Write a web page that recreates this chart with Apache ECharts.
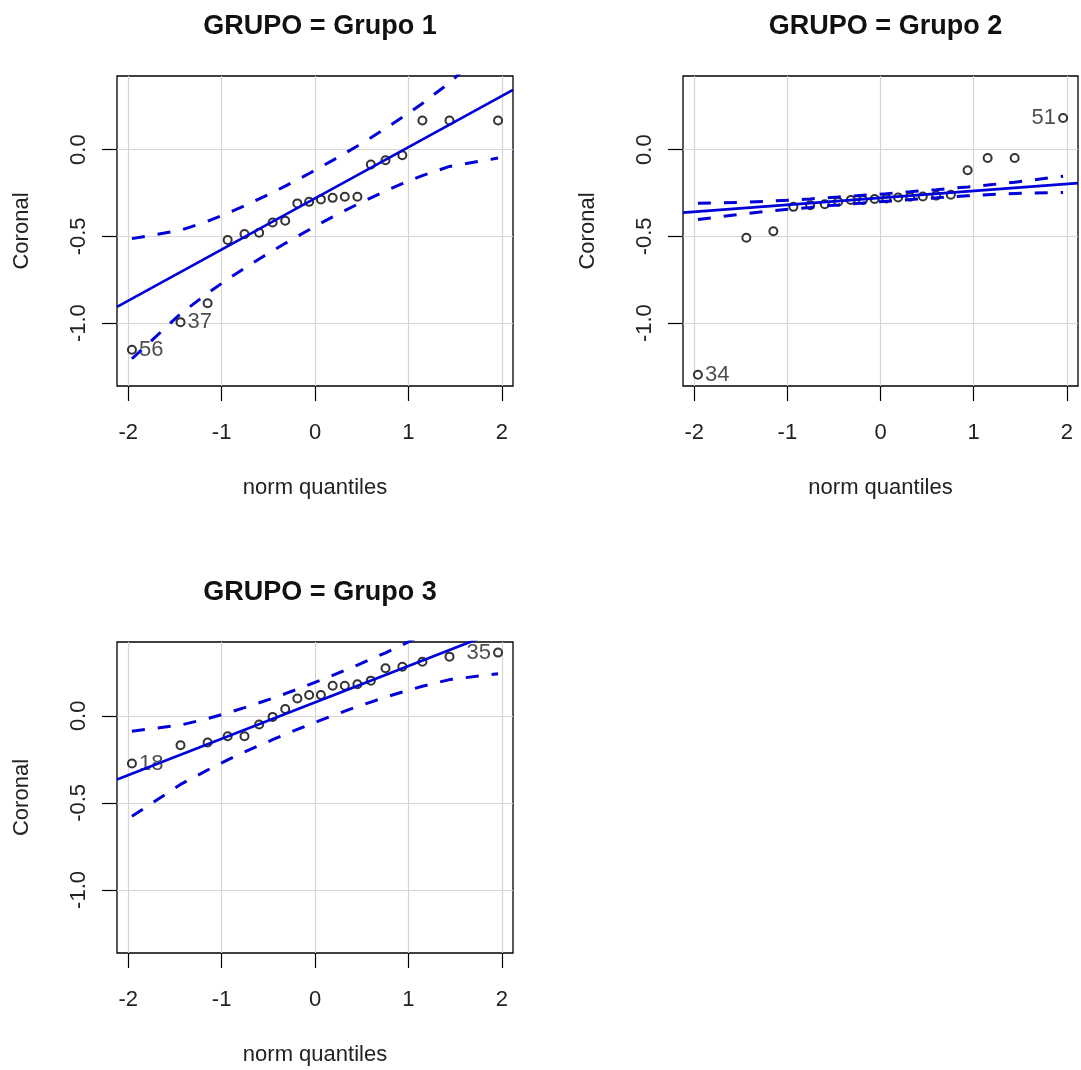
<!DOCTYPE html>
<html>
<head>
<meta charset="utf-8">
<script src="https://cdn.jsdelivr.net/npm/echarts@6/dist/echarts.min.js"></script>
<style>
  html, body { margin: 0; padding: 0; background: #fff; }
  #chart { width: 1081px; height: 1070px; }
</style>
</head>
<body>
<div id="chart"></div>
<script>
// normal quantiles on the x axis (same for every group, n = 20)
var quantiles = [-1.96, -1.44, -1.15, -0.935, -0.755, -0.598, -0.454, -0.319, -0.189, -0.063,
                 0.063, 0.189, 0.319, 0.454, 0.598, 0.755, 0.935, 1.15, 1.44, 1.96];

var groupNames = ['Grupo 1', 'Grupo 2', 'Grupo 3'];

// sorted Coronal values per group
var coronal1 = [-1.153, -0.994, -0.885, -0.521, -0.487, -0.479, -0.420, -0.410, -0.310, -0.301,
                -0.287, -0.278, -0.272, -0.272, -0.086, -0.061, -0.033, 0.168, 0.168, 0.168];
var coronal2 = [-1.297, -0.508, -0.470, -0.330, -0.320, -0.315, -0.300, -0.290, -0.290, -0.285,
                -0.282, -0.276, -0.272, -0.270, -0.265, -0.260, -0.119, -0.048, -0.048, 0.182];
var coronal3 = [-0.274, -0.169, -0.153, -0.117, -0.117, -0.050, -0.006, 0.039, 0.100, 0.120,
                0.120, 0.173, 0.173, 0.181, 0.202, 0.273, 0.282, 0.311, 0.340, 0.363];

// reference line (intercept, slope) per group
var fitIntercept = [-0.281, -0.278, 0.077];
var fitSlope = [0.295, 0.040, 0.209];

// confidence envelope per group
var upper1 = [-0.513, -0.465, -0.413, -0.366, -0.324, -0.284, -0.247, -0.210, -0.174, -0.138,
              -0.100, -0.062, -0.022, 0.021, 0.068, 0.122, 0.186, 0.266, 0.385, 0.643];
var lower1 = [-1.205, -0.946, -0.828, -0.747, -0.684, -0.630, -0.583, -0.540, -0.500, -0.462,
              -0.424, -0.388, -0.352, -0.315, -0.278, -0.238, -0.196, -0.150, -0.097, -0.049];
var upper2 = [-0.309, -0.303, -0.296, -0.290, -0.284, -0.278, -0.273, -0.268, -0.263, -0.259,
              -0.254, -0.248, -0.243, -0.237, -0.231, -0.223, -0.215, -0.204, -0.188, -0.153];
var lower2 = [-0.403, -0.368, -0.352, -0.341, -0.333, -0.325, -0.319, -0.313, -0.308, -0.303,
              -0.298, -0.293, -0.288, -0.283, -0.278, -0.272, -0.266, -0.260, -0.253, -0.247];
var upper3 = [-0.088, -0.053, -0.016, 0.017, 0.047, 0.075, 0.101, 0.127, 0.153, 0.179,
              0.205, 0.232, 0.261, 0.291, 0.325, 0.362, 0.407, 0.465, 0.549, 0.732];
var lower3 = [-0.577, -0.394, -0.311, -0.253, -0.208, -0.171, -0.137, -0.107, -0.078, -0.051,
              -0.025, 0.001, 0.027, 0.053, 0.079, 0.107, 0.137, 0.170, 0.208, 0.242];

// labelled points: index in the sorted data and the observation id
var labelIdx = [[0, 1], [0, 19], [0, 19]];
var labelText = [['56', '37'], ['34', '51'], ['18', '35']];
var labelSide = [['right', 'right'], ['right', 'left'], ['right', 'left']];

var xTicks = [-2, -1, 0, 1, 2];
var yTicks = [-1.0, -0.5, 0.0];
var xRange = [-2.12, 2.12];
var yRange = [-1.362, 0.424];

var values = [coronal1, coronal2, coronal3];
var uppers = [upper1, upper2, upper3];
var lowers = [lower1, lower2, lower3];

var FONT = 'Liberation Sans, Arial, sans-serif';
var BLUE = '#0000d8';
var grids = [
  { left: 117, top: 76, width: 396, height: 310 },
  { left: 683, top: 76, width: 395, height: 310 },
  { left: 117, top: 642, width: 396, height: 311 }
];

var chart = echarts.init(document.getElementById('chart'));

var option = {
  backgroundColor: '#fff',
  animation: false,
  title: [],
  grid: [],
  xAxis: [],
  yAxis: [],
  series: []
};

grids.forEach(function (g, gi) {
  option.grid.push({
    left: g.left, top: g.top, width: g.width, height: g.height,
    show: true, borderColor: '#000', borderWidth: 1.3, backgroundColor: 'transparent'
  });
  option.title.push({
    text: 'GRUPO = ' + groupNames[gi],
    left: g.left + g.width / 2,
    top: g.top - 68,
    textAlign: 'center',
    textStyle: { fontFamily: FONT, fontSize: 27, fontWeight: 'bold', color: '#111' }
  });
  option.xAxis.push({
    gridIndex: gi, type: 'value', min: xRange[0], max: xRange[1], splitNumber: 4,
    name: 'norm quantiles', nameLocation: 'middle', nameGap: 91,
    nameTextStyle: { fontFamily: FONT, fontSize: 22, color: '#222' },
    axisLine: { show: false, onZero: false },
    axisTick: { show: true, inside: false, length: 15, customValues: xTicks,
                lineStyle: { color: '#000', width: 1.2 } },
    axisLabel: { fontFamily: FONT, fontSize: 22, color: '#222', margin: 36, customValues: xTicks,
                 formatter: function (v) { return String(v); } },
    splitLine: { show: true, lineStyle: { color: '#d6d6d6', width: 1.2 } }
  });
  option.yAxis.push({
    gridIndex: gi, type: 'value', min: yRange[0], max: yRange[1], splitNumber: 4,
    name: 'Coronal', nameLocation: 'middle', nameGap: 84,
    nameTextStyle: { fontFamily: FONT, fontSize: 22, color: '#222' },
    axisLine: { show: false, onZero: false },
    axisTick: { show: true, inside: false, length: 15, customValues: yTicks,
                lineStyle: { color: '#000', width: 1.2 } },
    axisLabel: { fontFamily: FONT, fontSize: 22, color: '#222', margin: 27, rotate: 90,
                 customValues: yTicks,
                 formatter: function (v) { return v.toFixed(1); } },
    splitLine: { show: true, lineStyle: { color: '#d6d6d6', width: 1.2 } }
  });

  var pts = quantiles.map(function (q, i) {
    var item = { value: [q, values[gi][i]] };
    var k = labelIdx[gi].indexOf(i);
    if (k >= 0) {
      item.label = {
        show: true, formatter: labelText[gi][k], position: labelSide[gi][k], distance: 2,
        fontFamily: FONT, fontSize: 22, color: '#222'
      };
    }
    return item;
  });
  option.series.push({
    type: 'scatter', xAxisIndex: gi, yAxisIndex: gi, z: 2,
    symbol: 'emptyCircle', symbolSize: 8,
    itemStyle: { color: '#000', borderColor: '#000', borderWidth: 1.3 },
    data: pts
  });

  var a = fitIntercept[gi], b = fitSlope[gi];
  option.series.push({
    type: 'line', xAxisIndex: gi, yAxisIndex: gi, z: 3, clip: true,
    showSymbol: false, silent: true,
    lineStyle: { color: BLUE, width: 2.7 },
    data: xRange.map(function (x) { return [x, a + b * x]; })
  });
  [uppers[gi], lowers[gi]].forEach(function (band) {
    option.series.push({
      type: 'line', xAxisIndex: gi, yAxisIndex: gi, z: 3, clip: true,
      showSymbol: false, silent: true,
      lineStyle: { color: BLUE, width: 3, type: [13, 13] },
      data: quantiles.map(function (q, i) { return [q, band[i]]; })
    });
  });
});

chart.setOption(option);
</script>
</body>
</html>
